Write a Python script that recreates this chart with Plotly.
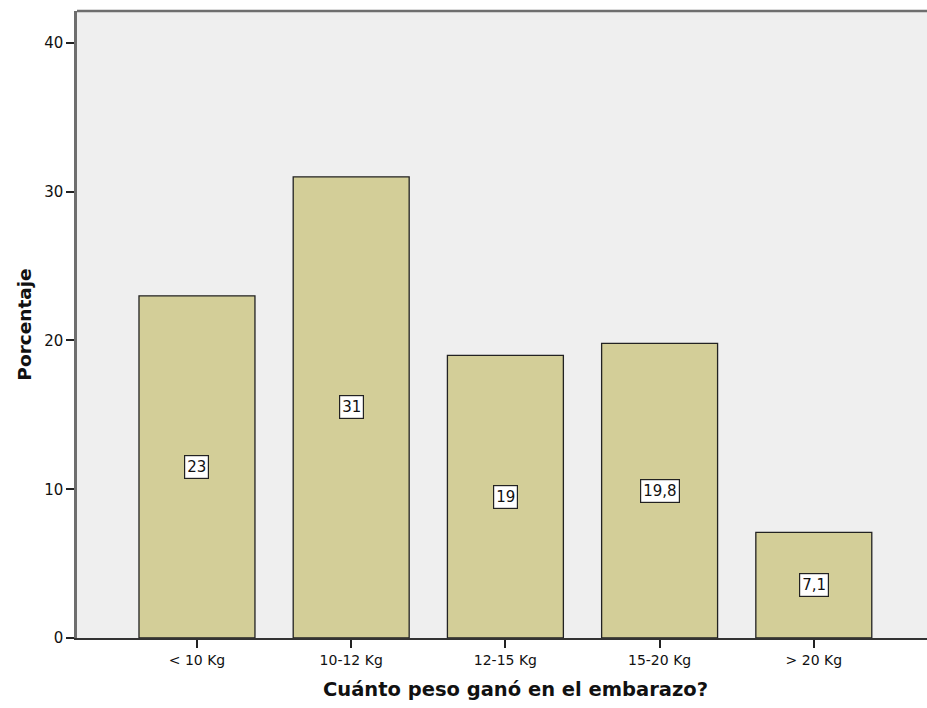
import plotly.graph_objects as go

categories = ["< 10 Kg", "10-12 Kg", "12-15 Kg", "15-20 Kg", "> 20 Kg"]
percentages = [23, 31, 19, 19.8, 7.1]
value_labels = ["23", "31", "19", "19,8", "7,1"]
y_ticks = [0, 10, 20, 30, 40]

FONT = "DejaVu Sans"
BAR_FILL = "#d3ce98"
PLOT_BG = "#efefef"
FRAME = "#6e6e6e"

fig = go.Figure()
fig.add_trace(go.Bar(
    x=list(range(len(categories))),
    y=percentages,
    marker=dict(color=BAR_FILL, line=dict(color="#222222", width=1.3)),
    width=0.752,
    hoverinfo="skip",
))

# value boxes centred at half the bar height
for i, (v, lab) in enumerate(zip(percentages, value_labels)):
    fig.add_annotation(
        x=i, y=v / 2, text=lab, showarrow=False,
        font=dict(family=FONT, size=15, color="#111111"),
        bgcolor="white", bordercolor="#222222", borderwidth=1.2, borderpad=2,
    )

# x-axis title, centred on the full (clipped) plot frame
fig.add_annotation(
    x=2.0652, xref="x", y=-0.082, yref="paper", yanchor="middle",
    text="<b>Cuánto peso ganó en el embarazo?</b>", showarrow=False,
    font=dict(family=FONT, size=19.5, color="#111111"),
)

# top frame line of the plot area
fig.add_shape(type="line", xref="paper", yref="paper", x0=0, x1=1, y0=1, y1=1,
              line=dict(color=FRAME, width=2.5))

fig.update_layout(
    width=927, height=708,
    margin=dict(l=77, r=0, t=11, b=70),
    paper_bgcolor="white",
    plot_bgcolor=PLOT_BG,
    showlegend=False,
    xaxis=dict(
        range=[-0.778, 4.734],
        tickmode="array",
        tickvals=list(range(len(categories))),
        ticktext=categories,
        ticks="outside", ticklen=8, tickcolor="#222222", tickwidth=1.5,
        showline=True, linecolor="#333333", linewidth=1.5,
        showgrid=False, zeroline=False,
        tickfont=dict(family=FONT, size=14, color="#111111"),
    ),
    yaxis=dict(
        range=[0, 42.15],
        tickmode="array",
        tickvals=y_ticks,
        ticks="outside", ticklen=8, tickcolor="#222222", tickwidth=1.5,
        showline=True, linecolor=FRAME, linewidth=2.5,
        showgrid=False, zeroline=False,
        tickfont=dict(family=FONT, size=15, color="#111111"),
        title=dict(text="<b>Porcentaje</b>",
                   font=dict(family=FONT, size=18.5, color="#111111"), standoff=8),
    ),
)

fig.write_html("out.html")
